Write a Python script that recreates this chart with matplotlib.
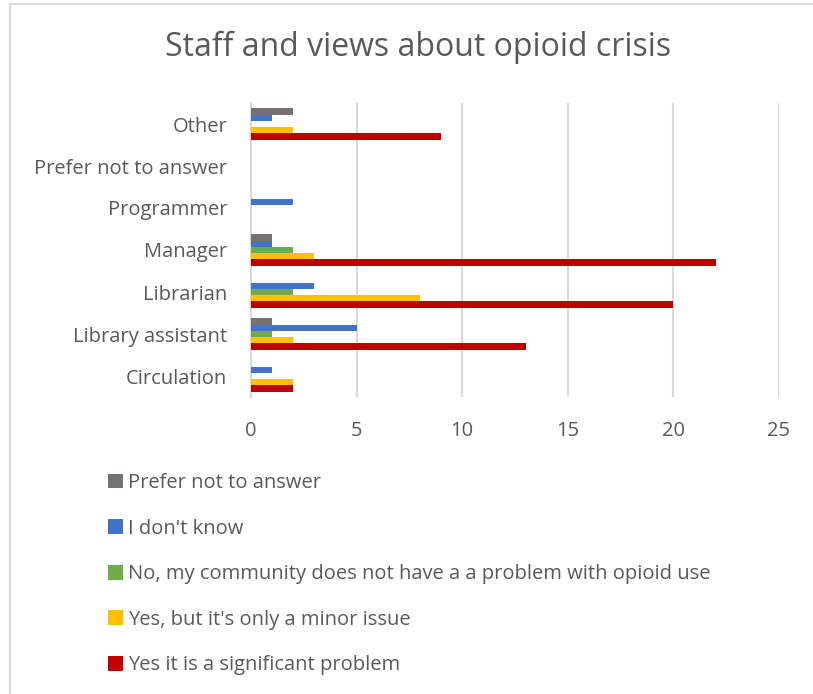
import matplotlib
matplotlib.use("Agg")
import matplotlib.pyplot as plt
from matplotlib.patches import Patch
from matplotlib.lines import Line2D
import numpy as np

plt.rcParams['font.family'] = ['Open Sans', 'DejaVu Sans']

categories = ["Circulation", "Library assistant", "Librarian", "Manager",
              "Programmer", "Prefer not to answer", "Other"]
series_names = ["Yes it is a significant problem",
                "Yes, but it's only a minor issue",
                "No, my community does not have a a problem with opioid use",
                "I don't know",
                "Prefer not to answer"]
significant = [2, 13, 20, 22, 0, 0, 9]
minor = [2, 2, 8, 3, 0, 0, 2]
no_problem = [0, 1, 2, 2, 0, 0, 0]
dont_know = [1, 5, 3, 1, 2, 0, 1]
prefer_not = [0, 1, 0, 1, 0, 0, 2]
series_values = [significant, minor, no_problem, dont_know, prefer_not]
colors = ["#C00000", "#FFC000", "#70AD47", "#4472C4", "#767171"]
x_ticks = [0, 5, 10, 15, 20, 25]

text_color = "#595959"
fig = plt.figure(figsize=(8.13, 6.94), dpi=100)
ax = fig.add_axes([251 / 813, 1 - 397 / 694, (779 - 251) / 813, (397 - 103) / 694])

# chart frame: top and left edges
fx, fy = 10 / 813, 1 - 4 / 694
fig.lines.append(Line2D([fx, 1.0], [fy, fy], transform=fig.transFigure,
                        color="#d9d9d9", linewidth=1.5))
fig.lines.append(Line2D([fx, fx], [0, fy], transform=fig.transFigure,
                        color="#d9d9d9", linewidth=1.5))

y = np.arange(len(categories))
bar_h = 0.15
n = len(series_values)
for i, (vals, col) in enumerate(zip(series_values, colors)):
    offset = (i - (n - 1) / 2) * bar_h
    ax.barh(y + offset, vals, height=bar_h, color=col, zorder=3)

ax.set_xlim(0, 25)
ax.set_ylim(-0.5, len(categories) - 0.5)
ax.set_xticks(x_ticks)
ax.set_xticklabels([str(t) for t in x_ticks], fontsize=14.5, color=text_color)
ax.set_yticks(y)
ax.set_yticklabels(categories, fontsize=14.5, color=text_color)
ax.tick_params(axis='both', length=0)
ax.tick_params(axis='x', pad=17)
ax.tick_params(axis='y', pad=17)
ax.grid(axis='x', color="#d9d9d9", linewidth=1.5, zorder=0)
for s in ["top", "right", "bottom"]:
    ax.spines[s].set_visible(False)
ax.spines["left"].set_color("#d9d9d9")
ax.spines["left"].set_linewidth(1.5)

fig.text(418 / 813, 1 - 47 / 694, "Staff and views about opioid crisis",
         ha="center", va="center", fontsize=23, color=text_color)

handles = [Patch(facecolor=c) for c in colors[::-1]]
fig.legend(handles, series_names[::-1], loc="upper left",
           bbox_to_anchor=(90 / 813, 1 - 455 / 694), frameon=False,
           fontsize=14.5, labelcolor=text_color, handlelength=0.75,
           handleheight=0.75, handletextpad=0.25, labelspacing=1.27)

fig.savefig("out.png", dpi=100, facecolor="white")
